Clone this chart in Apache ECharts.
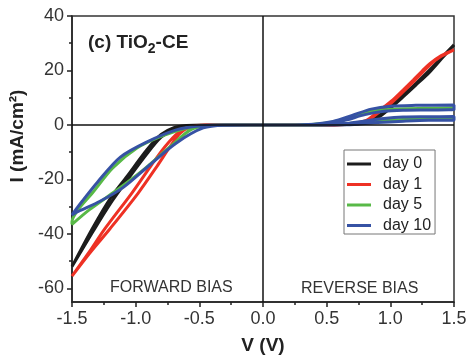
<!DOCTYPE html>
<html>
<head>
<meta charset="utf-8">
<script src="https://cdn.jsdelivr.net/npm/echarts@6/dist/echarts.min.js"></script>
<style>html,body{margin:0;padding:0;background:#fff;}#c{width:469px;height:356px;}</style>
</head>
<body>
<div id="c"></div>
<script>
// ---- data ----
const seriesNames = ['day 0', 'day 1', 'day 5', 'day 10'];
const seriesColors = ['#1c1c1c', '#ee3124', '#58b947', '#3652a4'];
const xTicks = [-1.5, -1.0, -0.5, 0.0, 0.5, 1.0, 1.5];
const yTicks = [-60, -40, -20, 0, 20, 40];
const yMinorTicks = [-50, -30, -10, 10, 30];

const day0V = [0, 0.5, 0.7, 0.8, 0.9, 1.0, 1.1, 1.2, 1.31, 1.4, 1.5, 1.4, 1.31, 1.2, 1.1, 1.0, 0.9, 0.8, 0.7, 0.5, 0,
  -0.45, -0.6, -0.7, -0.8, -0.91, -1.07, -1.2, -1.34, -1.5, -1.34, -1.2, -1.07, -0.91, -0.8, -0.7, -0.6, -0.45, 0];
const day0I = [0, 0, 0.3, 0.9, 2.6, 6.2, 10.3, 14.6, 19.5, 24.2, 29.4, 24.6, 20.2, 15.2, 11.0, 6.8, 3.2, 1.2, 0.3, 0, 0,
  0, -0.2, -1.0, -3.5, -9.0, -19.0, -27.0, -38.0, -52.0, -39.5, -29.0, -20.5, -10.5, -4.5, -1.6, -0.5, 0, 0];

const day1V = [0, 0.4, 0.55, 0.65, 0.75, 0.82, 0.92, 1.02, 1.1, 1.18, 1.25, 1.31, 1.4, 1.5,
  1.4, 1.31, 1.18, 1.02, 0.92, 0.82, 0.72, 0.55, 0.4, 0,
  -0.45, -0.58, -0.67, -0.77, -0.88, -1.03, -1.24, -1.37, -1.5,
  -1.36, -1.2, -0.98, -0.83, -0.73, -0.65, -0.57, -0.45, 0];
const day1I = [0, 0, 0.1, 0.3, 0.9, 1.9, 5.5, 9.2, 12.8, 16.5, 19.8, 22.5, 25.5, 27.6,
  25.2, 22.0, 15.8, 8.6, 5.0, 1.6, 0.4, 0, 0, 0,
  0, -0.8, -3.0, -8.0, -15.0, -25.0, -38.0, -47.0, -55.5,
  -47.0, -38.0, -25.0, -15.0, -8.0, -3.0, -0.8, 0, 0];

const day5V = [0, 0.3, 0.45, 0.6, 0.76, 0.9, 1.05, 1.25, 1.5, 1.5, 1.25, 1.05, 0.9, 0.76, 0.6, 0.45, 0.3,
  0.5, 0.7, 0.9, 1.1, 1.34, 1.5, 1.5, 1.34, 1.1, 0.9, 0.7, 0.5, 0.3, 0,
  -0.3, -0.45, -0.6, -0.81, -0.99, -1.18, -1.34, -1.45, -1.5, -1.5,
  -1.36, -1.15, -0.94, -0.73, -0.57, -0.45, -0.3, 0];
const day5I = [0, 0.05, 0.4, 1.6, 4.0, 5.4, 5.9, 6.1, 6.2, 6.0, 6.0, 5.8, 5.2, 3.7, 1.4, 0.3, 0,
  0.1, 0.6, 1.4, 2.0, 2.2, 2.3, 2.1, 2.1, 1.9, 1.4, 0.6, 0.1, 0, 0,
  0, -0.2, -1.1, -4.4, -8.5, -15.8, -25.0, -31.0, -35.5, -36.5,
  -31.0, -24.0, -16.5, -8.0, -1.8, -0.3, 0, 0];

const day10V = [0, 0.2, 0.4, 0.55, 0.7, 0.85, 1.0, 1.2, 1.5, 1.5, 1.3, 1.1, 0.95, 0.8, 0.65, 0.5, 0.3, 0,
  -0.3, -0.5, -0.68, -0.91, -1.12, -1.3, -1.42, -1.5,
  -1.44, -1.28, -1.1, -0.89, -0.68, -0.47, -0.3, -0.1, 0,
  0.3, 0.5, 0.65, 0.8, 0.95, 1.1, 1.3, 1.5, 1.5, 1.3, 1.1, 0.9, 0.75, 0.6, 0.4];
const day10I = [0, 0, 0.3, 1.3, 3.5, 5.8, 6.9, 7.2, 7.3, 5.6, 5.5, 5.4, 5.0, 3.8, 1.8, 0.4, 0, 0,
  0, -0.4, -1.8, -6.2, -11.8, -21.0, -28.0, -33.0,
  -31.5, -28.0, -23.0, -14.7, -6.6, -1.1, -0.1, 0, 0,
  0, 0.1, 0.5, 1.5, 2.4, 2.9, 3.0, 3.1, 1.7, 1.7, 1.4, 0.9, 0.3, 0.05, 0];

const seriesV = [day0V, day1V, day5V, day10V];
const seriesI = [day0I, day1I, day5I, day10I];

// ---- chart ----
const chart = echarts.init(document.getElementById('c'));
const FONT = 'Liberation Sans, Arial, sans-serif';

const series = seriesNames.map((name, k) => {
  const s = {
    name: name,
    type: 'line',
    data: seriesV[k].map((v, i) => [v, seriesI[k][i]]),
    showSymbol: false,
    symbol: 'none',
    smooth: 0.3,
    color: seriesColors[k],
    lineStyle: { width: 3, color: seriesColors[k] },
    clip: true
  };
  if (k === 0) {
    s.markLine = {
      silent: true,
      symbol: ['none', 'none'],
      label: { show: false },
      lineStyle: { color: '#111', width: 1.5, type: 'solid' },
      emphasis: { disabled: true },
      data: [{ xAxis: 0 }, { yAxis: 0 }]
    };
  }
  return s;
});

chart.setOption({
  animation: false,
  textStyle: { fontFamily: FONT },
  grid: { left: 72, right: 15, top: 16, bottom: 54, outerBoundsMode: 'none', containLabel: false,
          show: true, borderColor: '#333', borderWidth: 1.5, backgroundColor: 'transparent' },
  title: {
    text: '{a|(c) TiO}{s|2}{a|-CE}',
    left: 83, top: 25,
    textStyle: {
      rich: {
        a: { fontSize: 19, fontWeight: 'bold', color: '#222', fontFamily: FONT },
        s: { fontSize: 14, fontWeight: 'bold', color: '#222', fontFamily: FONT, padding: [12, 0, 0, 0] }
      }
    }
  },
  legend: {
    orient: 'vertical',
    left: 344, top: 150,
    padding: [5.5, 4, 0, 3],
    icon: 'rect',
    itemWidth: 24, itemHeight: 3, itemGap: 3.5,
    borderColor: '#777', borderWidth: 1, borderRadius: 0,
    backgroundColor: '#fff',
    textStyle: { fontSize: 16, color: '#222', lineHeight: 17, padding: [0, 0, 0, 7], fontFamily: FONT },
    data: seriesNames
  },
  xAxis: {
    type: 'value', min: -1.5, max: 1.5, interval: 0.5,
    name: 'V (V)', nameLocation: 'middle', nameGap: 34,
    nameTextStyle: { fontSize: 19, fontWeight: 'bold', color: '#222', fontFamily: FONT },
    axisLine: { show: true, onZero: false, lineStyle: { color: '#222', width: 1.5 } },
    axisTick: { show: true, inside: false, length: 5, lineStyle: { color: '#222', width: 1.5 } },
    minorTick: { show: true, splitNumber: 2, length: 3, lineStyle: { color: '#222', width: 1.5 } },
    axisLabel: { fontSize: 18, color: '#333', margin: 8, formatter: v => v.toFixed(1), fontFamily: FONT },
    splitLine: { show: false }
  },
  yAxis: [{
    type: 'value', min: -65, max: 40, position: 'left',
    name: 'I (mA/cm²)', nameLocation: 'middle', nameGap: 36, nameRotate: 90,
    nameTextStyle: { fontSize: 19, fontWeight: 'bold', color: '#222', fontFamily: FONT, padding: [0, 0, 0, 46] },
    axisLine: { show: true, onZero: false, lineStyle: { color: '#222', width: 1.5 } },
    axisTick: { show: true, inside: false, length: 5, customValues: yTicks, lineStyle: { color: '#222', width: 1.5 } },
    axisLabel: { customValues: yTicks, fontSize: 18, color: '#333', margin: 8, fontFamily: FONT },
    splitLine: { show: false }
  }, {
    type: 'value', min: -65, max: 40, position: 'left', offset: 0,
    axisLine: { show: false, onZero: false },
    axisTick: { show: true, inside: false, length: 3, customValues: yMinorTicks, lineStyle: { color: '#222', width: 1.5 } },
    axisLabel: { show: false },
    splitLine: { show: false }
  }],
  graphic: [
    { type: 'text', left: 110, top: 280, style: { text: 'FORWARD BIAS', fontSize: 16, fill: '#333', fontFamily: FONT } },
    { type: 'text', left: 301, top: 281, style: { text: 'REVERSE BIAS', fontSize: 16, fill: '#333', fontFamily: FONT } }
  ],
  series: series
});
</script>
</body>
</html>
